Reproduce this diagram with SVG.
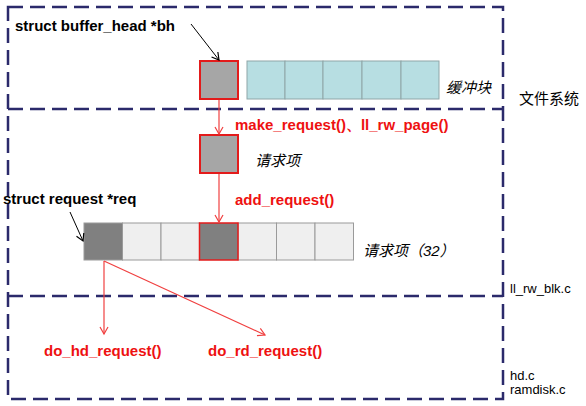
<svg xmlns="http://www.w3.org/2000/svg" width="586" height="406" viewBox="0 0 586 406">
<style>
.frame{fill:none;stroke:#2b2a6b;stroke-width:2.5;stroke-dasharray:15 7}
.lbl{font-family:"Liberation Sans",Arial,sans-serif;font-weight:bold;font-size:15px;fill:#000}
.red{font-family:"Liberation Sans",Arial,sans-serif;font-weight:bold;font-size:15px;fill:#ee1111}
.it{font-family:"Liberation Sans","Noto Sans CJK SC",sans-serif;font-style:italic;font-size:15px;fill:#000}
.side{font-family:"Liberation Sans","Noto Sans CJK SC",sans-serif;font-size:13px;fill:#000}
.big{font-family:"Liberation Sans","Noto Sans CJK SC",sans-serif;font-size:15px;fill:#000}
.teal{fill:#b7dee2;stroke:#8fa6a8;stroke-width:1}
.lite{fill:#efefef;stroke:#9a9a9a;stroke-width:1}
.dark{fill:#808080;stroke:#9a9a9a;stroke-width:1}
.gbox{fill:#a6a6a6;stroke:#e31b1b;stroke-width:2}
.rl{stroke:#f04040;stroke-width:1.2;fill:none}
.bl{stroke:#000;stroke-width:1;fill:none}
</style>
<defs>
<marker id="ar" markerWidth="10" markerHeight="10" refX="8" refY="5" orient="auto" markerUnits="userSpaceOnUse"><path d="M1,1 L8,5 L1,9" fill="none" stroke="#f04040" stroke-width="1.2"/></marker>
<marker id="ab" markerWidth="10" markerHeight="10" refX="8" refY="5" orient="auto" markerUnits="userSpaceOnUse"><path d="M1,1 L8,5 L1,9" fill="none" stroke="#000" stroke-width="1.2"/></marker>
</defs>
<rect width="586" height="406" fill="#fff"/>
<g id="frame">
<rect class="frame" x="8" y="7" width="495" height="392"/>
<line class="frame" x1="8" y1="109" x2="503" y2="109"/>
<line class="frame" x1="8" y1="296" x2="503" y2="296"/>
</g>
<g id="buffer">
<rect class="teal" x="247" y="61" width="38" height="38"/>
<rect class="teal" x="285" y="61" width="38" height="38"/>
<rect class="teal" x="323" y="61" width="39" height="38"/>
<rect class="teal" x="362" y="61" width="39" height="38"/>
<rect class="teal" x="401" y="61" width="38" height="38"/>
<rect class="gbox" x="200" y="61" width="38" height="38"/>
<text class="it" x="446" y="93">缓冲块</text>
</g>
<g id="bh-label"><text class="lbl" x="15" y="31">struct buffer_head *bh</text></g>
<g id="req-item">
<rect class="gbox" x="200" y="135" width="38" height="38"/>
<text class="it" x="255" y="166">请求项</text>
</g>
<g id="req-array">
<rect class="dark" x="84" y="223" width="38.5" height="37"/>
<rect class="lite" x="122.5" y="223" width="38.5" height="37"/>
<rect class="lite" x="161" y="223" width="38.5" height="37"/>
<rect class="lite" x="238" y="223" width="38.5" height="37"/>
<rect class="lite" x="276.5" y="223" width="38.5" height="37"/>
<rect class="lite" x="315" y="223" width="38.5" height="37"/>
<rect x="199.5" y="223" width="38.5" height="37" fill="#808080" stroke="#e31b1b" stroke-width="1.5"/>
<text class="it" x="363" y="256">请求项（32）</text>
</g>
<g id="req-label"><text class="lbl" x="3" y="204">struct request *req</text></g>
<g id="func-labels">
<text class="red" x="235" y="130">make_request()、ll_rw_page()</text>
<text class="red" x="235" y="205">add_request()</text>
<text class="red" x="44" y="356">do_hd_request()</text>
<text class="red" x="208" y="356">do_rd_request()</text>
</g>
<g id="side-labels">
<text class="big" x="519" y="104">文件系统</text>
<text class="side" x="510" y="293">ll_rw_blk.c</text>
<text class="side" x="510" y="380">hd.c</text>
<text class="side" x="510" y="394">ramdisk.c</text>
</g>
<g id="connectors">
<line class="bl" x1="191" y1="24" x2="219" y2="60" marker-end="url(#ab)"/>
<line class="bl" x1="70" y1="212" x2="83" y2="241" marker-end="url(#ab)"/>
<line class="rl" x1="219" y1="100" x2="219" y2="134" marker-end="url(#ar)"/>
<line class="rl" x1="219" y1="174" x2="219" y2="222" marker-end="url(#ar)"/>
<line class="rl" x1="104" y1="261" x2="104" y2="334" marker-end="url(#ar)"/>
<line class="rl" x1="104" y1="261" x2="265" y2="335" marker-end="url(#ar)"/>
</g>
</svg>
